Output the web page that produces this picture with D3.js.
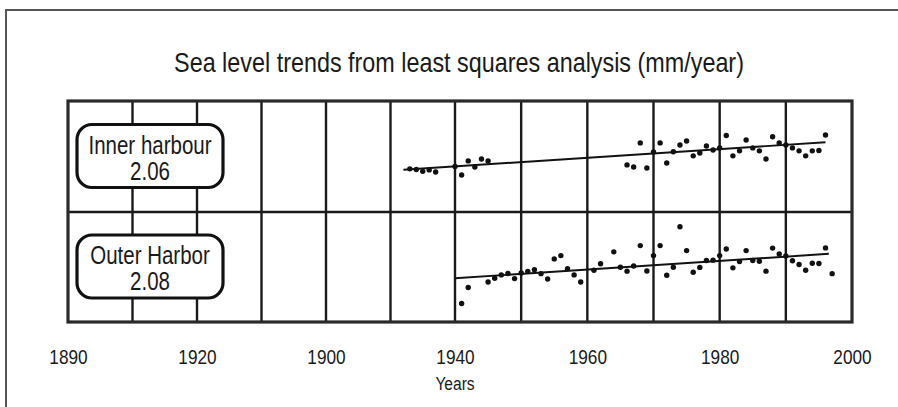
<!DOCTYPE html>
<html>
<head>
<meta charset="utf-8">
<script src="https://cdn.jsdelivr.net/npm/d3@7"></script>
<style>
  body { margin: 0; background: #fff; }
  svg { display: block; }
  text { font-family: "Liberation Sans", Arial, sans-serif; fill: #1a1a1a; }
</style>
</head>
<body>
<div class="container"></div>
<script>
// Data
const title = 'Sea level trends from least squares analysis (mm/year)'
const tickYears = [1880, 1900, 1920, 1940, 1960, 1980, 2000]
const tickLabels = ['1890', '1920', '1900', '1940', '1960', '1980', '2000']   // as printed
const xTitle = 'Years'

const stations = ['Inner harbour', 'Outer Harbor']
const rates = [2.06, 2.08]            // mm/year
const trendAt1940 = [218, 211]        // trend value in 1940 (mm, relative)
const trendSpan = [[1932, 1996], [1940, 1996.5]]

// relative annual mean sea level, mm
const innerYears = [1933, 1934, 1935, 1936, 1937, 1940, 1941, 1942, 1943, 1944, 1945,
    1966, 1967, 1968, 1969, 1970, 1971, 1972, 1973, 1974, 1975, 1976, 1977, 1978, 1979, 1980,
    1981, 1982, 1983, 1984, 1985, 1986, 1987, 1988, 1989, 1990, 1991, 1992, 1993, 1994, 1995, 1996]
const innerLevels = [206, 203, 194, 201, 191, 217, 177, 244, 215, 253, 244,
    225, 215, 330, 210, 287, 330, 234, 288, 320, 339, 268, 282, 315, 296, 306,
    365, 268, 292, 344, 306, 292, 253, 359, 330, 320, 306, 292, 268, 292, 294, 368]

const outerYears = [1941, 1942, 1945, 1946, 1947, 1948, 1949, 1950, 1951, 1952, 1953, 1954,
    1955, 1956, 1957, 1958, 1959, 1961, 1962, 1964, 1965, 1966, 1967, 1968, 1969, 1970,
    1971, 1972, 1973, 1974, 1975, 1976, 1977, 1978, 1979, 1980, 1981, 1982, 1983, 1984,
    1985, 1986, 1987, 1988, 1989, 1990, 1991, 1992, 1993, 1994, 1995, 1996, 1997]
const outerLevels = [89, 166, 193, 211, 227, 234, 209, 236, 244, 252, 233, 207,
    304, 320, 257, 227, 193, 249, 281, 338, 264, 245, 270, 368, 246, 320,
    368, 225, 264, 459, 344, 240, 263, 296, 298, 320, 352, 261, 291, 344,
    296, 293, 245, 356, 328, 318, 295, 277, 249, 283, 282, 357, 233]

const series = [
    d3.zip(innerYears, innerLevels),
    d3.zip(outerYears, outerLevels)
]

const width = 898
const height = 407
const plot = {left: 68, right: 852, top: 101, mid: 212, bottom: 322}
const squash = 0.82   // the lettering in the scan is narrow

const svg = d3.select('.container')
    .append('svg')
    .attr('width', width)
    .attr('height', height)

// outer frame (top and left edges only show)
svg.append('path')
    .attr('d', `M6,${height} V10 H${width}`)
    .attr('fill', 'none')
    .attr('stroke', '#555')
    .attr('stroke-width', 2)

// scales
const x = d3.scaleLinear()
    .domain([1880, 1940, 2000])
    .range([plot.left, 455, plot.right])

const ys = [
    d3.scaleLinear().domain([0, 530]).range([plot.mid, plot.top]),
    d3.scaleLinear().domain([0, 530]).range([plot.bottom, plot.mid])
]

// title
svg.append('g')
    .attr('transform', `translate(459,72) scale(${squash},1)`)
    .append('text')
    .attr('text-anchor', 'middle')
    .style('font-size', '28.5px')
    .text(title)

// vertical grid, one line per decade
svg.append('g')
    .selectAll('line')
    .data(d3.range(1890, 2000, 10))
    .enter()
    .append('line')
        .attr('x1', d => x(d))
        .attr('x2', d => x(d))
        .attr('y1', plot.top)
        .attr('y2', plot.bottom)
        .attr('stroke', '#1a1a1a')
        .attr('stroke-width', 2.4)

svg.append('line')
    .attr('x1', plot.left).attr('x2', plot.right)
    .attr('y1', plot.mid).attr('y2', plot.mid)
    .attr('stroke', '#1a1a1a')
    .attr('stroke-width', 2.4)

svg.append('rect')
    .attr('x', plot.left)
    .attr('y', plot.top)
    .attr('width', plot.right - plot.left)
    .attr('height', plot.bottom - plot.top)
    .attr('fill', 'none')
    .attr('stroke', '#2a2a2a')
    .attr('stroke-width', 3.2)

// trend lines and points
const line = d3.line()

series.forEach((pts, i) => {
    const y = ys[i]
    const trend = yr => trendAt1940[i] + rates[i] * (yr - 1940)
    const g = svg.append('g')

    g.append('path')
        .datum(trendSpan[i].map(yr => [x(yr), y(trend(yr))]))
        .attr('d', line)
        .attr('fill', 'none')
        .attr('stroke', '#111')
        .attr('stroke-width', 1.9)

    g.selectAll('circle')
        .data(pts)
        .enter()
        .append('circle')
            .attr('cx', d => x(d[0]))
            .attr('cy', d => y(d[1]))
            .attr('r', 2.7)
            .attr('fill', '#111')
})

// station labels
const boxes = svg.append('g')
    .selectAll('g')
    .data(stations)
    .enter()
    .append('g')
        .attr('transform', (d, i) => `translate(150,${(ys[i].range()[0] + ys[i].range()[1]) / 2})`)

boxes.append('rect')
    .attr('x', -73)
    .attr('y', -32)
    .attr('width', 146)
    .attr('height', 63)
    .attr('rx', 15)
    .attr('fill', '#fff')
    .attr('stroke', '#111')
    .attr('stroke-width', 3.2)

boxes.append('g')
    .attr('transform', `translate(0,-3) scale(${squash},1)`)
    .append('text')
    .attr('text-anchor', 'middle')
    .style('font-size', '25px')
    .text(d => d)

boxes.append('g')
    .attr('transform', `translate(0,23) scale(${squash},1)`)
    .append('text')
    .attr('text-anchor', 'middle')
    .style('font-size', '25px')
    .text((d, i) => rates[i].toFixed(2))

// x axis labels
const axis = svg.append('g')
    .attr('transform', `translate(0,${plot.bottom})`)
    .call(d3.axisBottom(x)
        .tickValues(tickYears)
        .tickSize(0)
        .tickPadding(27)
        .tickFormat((d, i) => tickLabels[i]))

axis.select('.domain').remove()
axis.selectAll('text')
    .attr('transform', `scale(${squash},1)`)
    .style('font-size', '21px')
    .style('font-family', '"Liberation Sans", Arial, sans-serif')
    .attr('fill', '#1a1a1a')

svg.append('g')
    .attr('transform', `translate(455,390) scale(${squash},1)`)
    .append('text')
    .attr('text-anchor', 'middle')
    .style('font-size', '19px')
    .text(xTitle)
</script>
</body>
</html>
